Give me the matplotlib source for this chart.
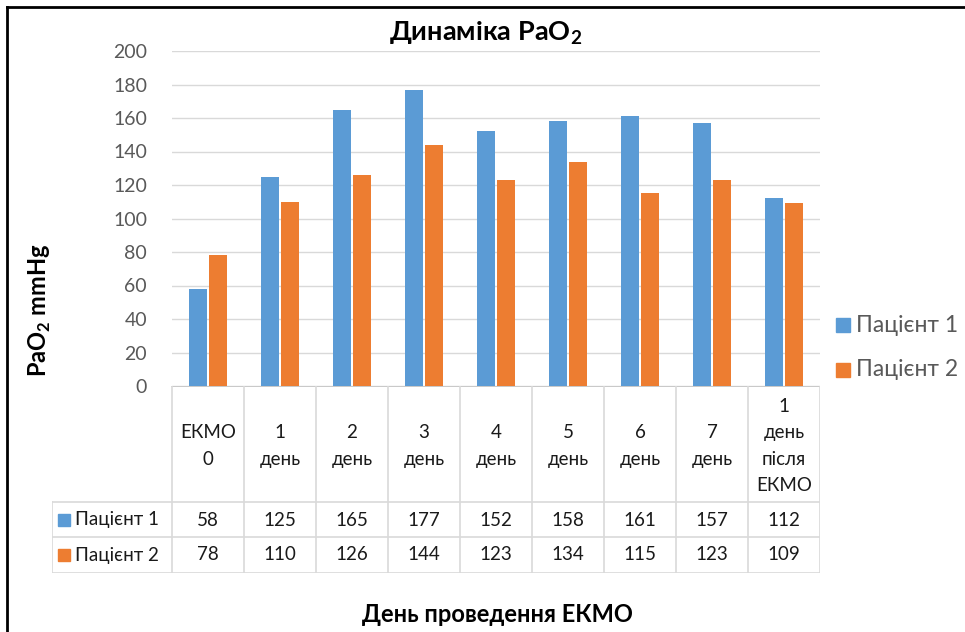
import matplotlib
matplotlib.use('Agg')
import matplotlib.pyplot as plt
import numpy as np

plt.rcParams['font.family'] = ['Lato', 'DejaVu Sans']
plt.rcParams['mathtext.fontset'] = 'custom'
plt.rcParams['mathtext.rm'] = 'Lato'
plt.rcParams['mathtext.bf'] = 'Lato:bold'

categories = ['ЕКМО\n0', '1\nдень', '2\nдень', '3\nдень', '4\nдень',
              '5\nдень', '6\nдень', '7\nдень', '1\nдень\nпісля\nЕКМО']
series_names = ['Пацієнт 1', 'Пацієнт 2']
patient1 = [58, 125, 165, 177, 152, 158, 161, 157, 112]
patient2 = [78, 110, 126, 144, 123, 134, 115, 123, 109]
colors = ['#5B9BD5', '#ED7D31']

W, H = 965, 632
fig = plt.figure(figsize=(W / 100, H / 100), dpi=100)

def fx(px):
    return px / W

def fy(py):
    return 1 - py / H

# outer chart border (only left/top visible)
fig.add_artist(plt.Line2D([fx(7), fx(7)], [fy(7), 0], color='black', lw=2))
fig.add_artist(plt.Line2D([fx(7), 1], [fy(7), fy(7)], color='black', lw=2))

ax = fig.add_axes([fx(172), fy(386), fx(820 - 172), (386 - 51) / H])
x = np.arange(len(categories))
bw = 0.24
ax.bar(x - 0.14, patient1, bw, color=colors[0], zorder=3)
ax.bar(x + 0.14, patient2, bw, color=colors[1], zorder=3)
ax.set_xlim(-0.5, len(categories) - 0.5)
ax.set_ylim(0, 200)
ax.set_yticks(range(0, 201, 20))
ax.yaxis.grid(True, color='#D9D9D9', lw=1)
ax.set_axisbelow(True)
for s in ax.spines.values():
    s.set_visible(False)
ax.set_xticks([])
ax.tick_params(axis='y', length=0, pad=18, labelsize=14, labelcolor='#595959')

fig.text(fx(486), fy(33), 'Динаміка PaO$_\\mathbf{2}$', ha='center', va='center',
         fontsize=19.5, fontweight='bold')
fig.text(fx(40), fy(310), 'PaO$_\\mathbf{2}$ mmHg', ha='center', va='center',
         rotation=90, fontsize=17, fontweight='bold')
fig.text(fx(497), fy(615), 'День проведення ЕКМО', ha='center', va='center',
         fontsize=17, fontweight='bold')

# legend on the right
for i, name in enumerate(series_names):
    yy = 325 + i * 45
    fig.patches.append(plt.Rectangle((fx(836), fy(yy + 7)), fx(14), 14 / H,
                                     color=colors[i], transform=fig.transFigure))
    fig.text(fx(856), fy(yy), name, ha='left', va='center', fontsize=16.5,
             color='#595959')

# data table
tax = fig.add_axes([fx(52), fy(573), fx(820 - 52), (573 - 386) / H])
left_w = 120 / 72
tax.set_xlim(-0.5 - left_w, len(categories) - 0.5)
tax.set_ylim(573, 386)
tax.axis('off')
lc = '#D9D9D9'
xl = -0.5 - left_w
xr = len(categories) - 0.5
tax.plot([-0.5, xr], [386, 386], color='#BFBFBF', lw=1.2)
for yy in [502, 537, 573]:
    tax.plot([xl, xr], [yy, yy], color=lc, lw=1.2)
for b in np.arange(-0.5, len(categories), 1.0):
    tax.plot([b, b], [386, 573], color=lc, lw=1.2)
tax.plot([xl, xl], [502, 573], color=lc, lw=1.2)

for i, lab in enumerate(categories):
    tax.text(i, 446, lab, ha='center', va='center', fontsize=13.5,
             linespacing=1.68, color='#1a1a1a')

rows = [patient1, patient2]
for r, vals in enumerate(rows):
    yc = 520 + r * 35
    tax.add_patch(plt.Rectangle((xl + 6 / 72, yc - 6), 12 / 72, 12,
                                color=colors[r]))
    tax.text(xl + 23 / 72, yc, series_names[r], ha='left', va='center',
             fontsize=13.5, color='#1a1a1a')
    for i, v in enumerate(vals):
        tax.text(i, yc, str(v), ha='center', va='center', fontsize=13.5,
                 color='#1a1a1a')

fig.savefig('out.png', dpi=100)
